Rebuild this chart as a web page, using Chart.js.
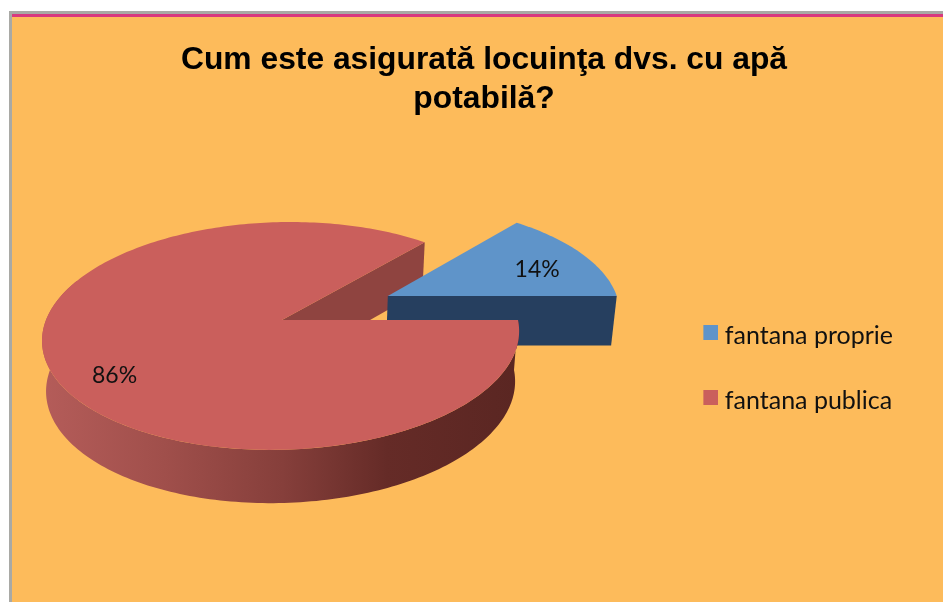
<!DOCTYPE html>
<html><head><meta charset="utf-8">
<style>html,body{margin:0;padding:0;background:#fff}canvas{display:block}</style>
<script src="https://cdn.jsdelivr.net/npm/chart.js@4"></script>
</head><body><canvas id="c" width="943" height="602"></canvas>
<script>
const titleLines = ["Cum este asigurată locuinţa dvs. cu apă", "potabilă?"];
const categories = ["fantana proprie", "fantana publica"];
const values = [14, 86];
const valueLabels = ["14%", "86%"];
const topColors = ["#5f94c9", "#ca5f5c"];
const wallColors = ["#263f5f", "#8f4440"];
const explode = [[0.453, -0.2215], [0, 0]];
const labelRadius = [0.76, 0.735];
const labelShiftY = [6, 19];

const view = {cx: 282, k: 0.14, shear: 10, legendDrop: 242, top: {S: 236, T: 111.7, cy: 320}, bot: {S: 232, T: 114.5, cy: 370}};
const project = (u, v, p) => { const d = 1 - view.k * v; return [view.cx + (p.S * u - view.shear * v) / d, p.cy + p.T * v / d]; };

function rim(a0, a1, e, p) {
  const pts = [], n = Math.max(2, Math.ceil(Math.abs(a1 - a0) / 0.02));
  for (let i = 0; i <= n; i++) { const a = a0 + (a1 - a0) * i / n; pts.push(project(Math.cos(a) + e[0], Math.sin(a) + e[1], p)); }
  return pts;
}
function fillPoly(ctx, pts, fill) {
  ctx.beginPath(); pts.forEach((q, i) => i ? ctx.lineTo(q[0], q[1]) : ctx.moveTo(q[0], q[1]));
  ctx.closePath(); ctx.fillStyle = fill; ctx.fill();
}
function cutWall(ctx, a, e, fill) {
  fillPoly(ctx, [project(e[0], e[1], view.top), project(Math.cos(a) + e[0], Math.sin(a) + e[1], view.top),
                 project(Math.cos(a) + e[0], Math.sin(a) + e[1], view.bot), project(e[0], e[1], view.bot)], fill);
}
function swatch(color) {
  const s = document.createElement('canvas'); s.width = 27; s.height = 21;
  const x = s.getContext('2d'); x.fillStyle = color; x.fillRect(12, 0, 15, 15);
  return s;
}
const swatches = topColors.map(swatch);
const pie3d = {
  id: 'pie3d',
  afterLayout(chart) { chart.legend.top += view.legendDrop; chart.legend.bottom += view.legendDrop; },
  beforeDraw(chart) {
    const {ctx, width, height} = chart;
    ctx.save();
    ctx.fillStyle = '#fff'; ctx.fillRect(0, 0, width, height);
    ctx.fillStyle = '#a9a9a5'; ctx.fillRect(9, 11, width - 9, height - 11);
    ctx.fillStyle = '#fdbb5b'; ctx.fillRect(12, 14, width - 12, height - 14);
    ctx.fillStyle = '#d8387f'; ctx.fillRect(12, 14, width - 12, 3);
    ctx.restore();
  },
  beforeDatasetsDraw(chart) {
    const {ctx} = chart, arcs = chart.getDatasetMeta(0).data;
    const blue = arcs[0], red = arcs[1], eb = explode[0], er = explode[1];
    ctx.save();
    cutWall(ctx, red.endAngle, er, wallColors[1]);
    cutWall(ctx, blue.endAngle, eb, wallColors[0]);
    fillPoly(ctx, [project(eb[0], eb[1], view.top), ...rim(blue.startAngle, blue.endAngle, eb, view.top)], topColors[0]);
    const g = ctx.createLinearGradient(45, 0, 520, 0);
    g.addColorStop(0, '#b45c59'); g.addColorStop(0.25, '#a04f4b'); g.addColorStop(0.5, '#863f3b');
    g.addColorStop(0.72, '#652b27'); g.addColorStop(1, '#5a2622');
    const wa = red.startAngle, wb = Math.min(red.endAngle, red.startAngle + Math.PI * 1.12);
    fillPoly(ctx, [...rim(wa, wb, er, view.top), ...rim(wb, wa, er, view.bot)], g);
    fillPoly(ctx, [project(er[0], er[1], view.top), ...rim(red.startAngle, red.endAngle, er, view.top)], topColors[1]);
    ctx.font = '23px Lato'; ctx.fillStyle = '#111'; ctx.textAlign = 'center'; ctx.textBaseline = 'middle';
    arcs.forEach((el, i) => {
      const m = (el.startAngle + el.endAngle) / 2, r = labelRadius[i];
      const q = project(Math.cos(m) * r + explode[i][0], Math.sin(m) * r + explode[i][1], view.top);
      ctx.fillText(valueLabels[i], q[0], q[1] + labelShiftY[i]);
    });
    ctx.restore();
    return false;
  }
};
new Chart(document.getElementById('c'), {
  type: 'pie',
  plugins: [pie3d],
  data: {labels: categories, datasets: [{data: values, backgroundColor: topColors, borderWidth: 0}]},
  options: {
    responsive: false, animation: false, devicePixelRatio: 1, events: [],
    rotation: 39.6,
    layout: {padding: {left: 65, right: 40, top: 41, bottom: 0}},
    plugins: {
      tooltip: {enabled: false},
      title: {display: true, text: titleLines, color: '#000', padding: {top: 0, bottom: 10},
              font: {family: 'Liberation Sans', size: 31.8, weight: 'bold', lineHeight: 1.22}},
      legend: {position: 'right', align: 'start',
               labels: {color: '#111', usePointStyle: true, boxWidth: 15, boxHeight: 15, padding: 40, font: {family: 'Lato', size: 25},
                 generateLabels(chart) {
                   const items = Chart.overrides.doughnut.plugins.legend.labels.generateLabels(chart);
                   items.forEach((it, i) => { it.pointStyle = swatches[i]; });
                   return items;
                 }}}
    }
  }
});
</script></body></html>
